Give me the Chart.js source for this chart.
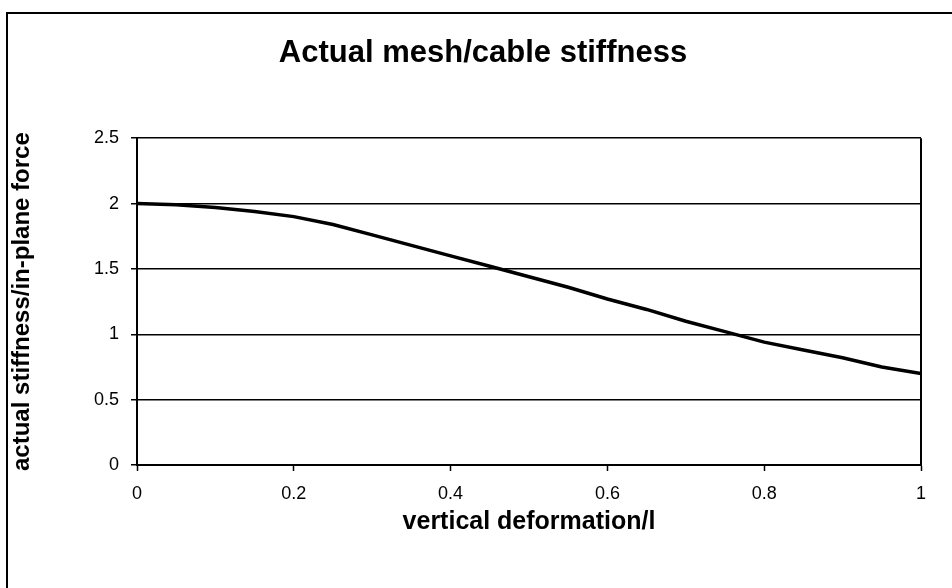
<!DOCTYPE html>
<html>
<head>
<meta charset="utf-8">
<title>Actual mesh/cable stiffness</title>
<script src="https://cdn.jsdelivr.net/npm/chart.js@4.4.1/dist/chart.umd.min.js"></script>
<style>
    html, body { margin: 0; padding: 0; background: #fff; }
    #wrap { width: 952px; height: 588px; }
</style>
</head>
<body>
<div id="wrap"><canvas id="stiffChart" width="952" height="588"></canvas></div>
<script>
// data
const deformation = [0, 0.05, 0.1, 0.15, 0.2, 0.25, 0.3, 0.35, 0.4, 0.45, 0.5,
                     0.55, 0.6, 0.65, 0.7, 0.75, 0.8, 0.85, 0.9, 0.95, 1.0];
const stiffness = [2.0, 1.99, 1.97, 1.94, 1.90, 1.84, 1.76, 1.68, 1.60, 1.52, 1.44,
                   1.36, 1.27, 1.19, 1.10, 1.02, 0.94, 0.88, 0.82, 0.75, 0.70];
const xTicks = [0, 0.2, 0.4, 0.6, 0.8, 1];
const yTicks = [0, 0.5, 1, 1.5, 2, 2.5];

const FONT = "'Liberation Sans', Arial, sans-serif";

// frame lines: outer chart border and right edge of the plot
const framePlugin = {
    id: 'frame',
    afterLayout(chart) {
        // title in the reference is centred on the whole frame, not the plot
        chart.titleBlock.left = 14;
        chart.titleBlock.right = chart.width;
    },
    afterDraw(chart) {
        const ctx = chart.ctx;
        const area = chart.chartArea;
        ctx.save();
        ctx.strokeStyle = '#000';
        ctx.lineWidth = 2;
        ctx.beginPath();
        ctx.moveTo(7, chart.height);
        ctx.lineTo(7, 13);
        ctx.lineTo(chart.width, 13);
        ctx.stroke();
        ctx.beginPath();
        ctx.moveTo(area.right, area.top);
        ctx.lineTo(area.right, area.bottom);
        ctx.stroke();
        ctx.restore();
    }
};

new Chart(document.getElementById('stiffChart'), {
    type: 'line',
    data: {
        datasets: [{
            data: deformation.map((x, i) => ({ x: x, y: stiffness[i] })),
            borderColor: '#000',
            borderWidth: 3.5,
            pointRadius: 0,
            tension: 0,
            fill: false
        }]
    },
    options: {
        responsive: false,
        animation: false,
        layout: {
            padding: { left: 0, right: 31, top: 12, bottom: 0 }
        },
        plugins: {
            legend: { display: false },
            tooltip: { enabled: false },
            title: {
                display: true,
                text: 'Actual mesh/cable stiffness',
                color: '#000',
                font: { family: FONT, size: 31, weight: 'bold' },
                padding: { top: 23, bottom: 66 }
            }
        },
        scales: {
            x: {
                type: 'linear',
                min: 0,
                max: 1,
                afterBuildTicks: (scale) => { scale.ticks = xTicks.map(v => ({ value: v })); },
                afterFit: (scale) => { scale.height = 123; },
                ticks: {
                    color: '#000',
                    font: { family: FONT, size: 18 },
                    padding: 12,
                    maxRotation: 0,
                    callback: (value) => String(value)
                },
                grid: {
                    drawOnChartArea: false,
                    drawTicks: true,
                    tickLength: 6,
                    tickColor: '#000',
                    tickWidth: 1.5
                },
                border: { color: '#000', width: 2 },
                title: {
                    display: true,
                    text: 'vertical deformation/l',
                    color: '#000',
                    font: { family: FONT, size: 25, weight: 'bold' },
                    padding: { top: 0, bottom: 51 }
                }
            },
            y: {
                min: 0,
                max: 2.5,
                afterBuildTicks: (scale) => { scale.ticks = yTicks.map(v => ({ value: v })); },
                afterFit: (scale) => { scale.width = 137; },
                ticks: {
                    color: '#000',
                    font: { family: FONT, size: 18 },
                    padding: 12,
                    callback: (value) => String(value)
                },
                grid: {
                    color: '#000',
                    lineWidth: 1.5,
                    tickLength: 6,
                    tickColor: '#000'
                },
                border: { color: '#000', width: 2 },
                title: {
                    display: true,
                    text: 'actual stiffness/in-plane force',
                    color: '#000',
                    font: { family: FONT, size: 24, weight: 'bold' },
                    padding: { top: 8, bottom: 0 }
                }
            }
        }
    },
    plugins: [framePlugin]
});
</script>
</body>
</html>
